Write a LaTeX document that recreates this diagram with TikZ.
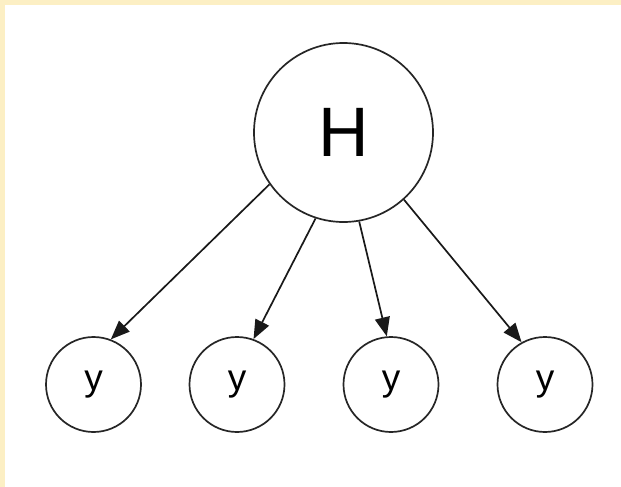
\documentclass[tikz,border=0pt]{standalone}
\usepackage{fontspec}
\setmainfont{Liberation Sans}
\usepackage{xcolor}
\usetikzlibrary{arrows.meta}
\definecolor{paper}{RGB}{252,239,196}
\tikzset{
    bignode/.style={draw=black!85, line width=1.7pt, circle, minimum size=179pt, inner sep=0pt, font=\fontsize{70}{70}\selectfont},
    ynode/.style={draw=black!85, line width=1.7pt, circle, minimum size=95pt, inner sep=0pt, font=\fontsize{37}{37}\selectfont},
    edge/.style={line width=1.7pt, draw=black!90, -{Triangle[length=19pt,width=15pt]}}
}
\begin{document}
\begin{tikzpicture}[x=1pt,y=-1pt]
        \useasboundingbox (0,0) rectangle (621,487);
        \fill[paper] (0,0) rectangle (621,487);
        \fill[white] (5,5) rectangle (621,487);
        \node[bignode] (H) at (343.5,132.5) {H};
        \node[ynode] (y1) at (93.5,384.5) {y};
        \node[ynode] (y2) at (237,384.5) {y};
        \node[ynode] (y3) at (391,384.5) {y};
        \node[ynode] (y4) at (545,384.5) {y};
        \draw[edge] (H.215) -- (y1.69);
        \draw[edge] (H.252) -- (y2.70);
        \draw[edge] (H.280) -- (y3.95);
        \draw[edge] (H.312) -- (y4.119);
    \end{tikzpicture}
\end{document}
